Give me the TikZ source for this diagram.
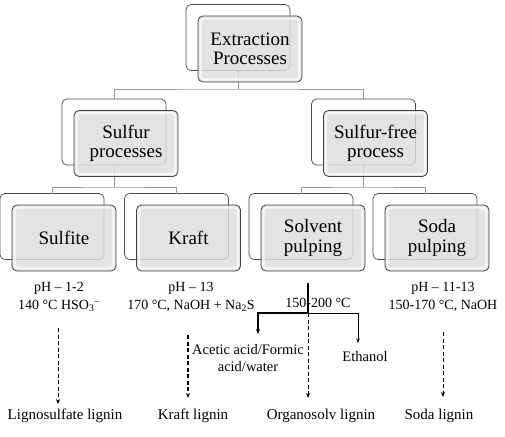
\documentclass[tikz,border=0pt]{standalone}
\usepackage{fontspec}
\setmainfont{Liberation Serif}
\usetikzlibrary{arrows.meta}
\begin{document}
\begin{tikzpicture}[x=1pt,y=-1pt,
  backbox/.style={draw=black!70, fill=white, rounded corners=5pt, minimum width=104pt, minimum height=66pt, inner sep=0pt, outer sep=0pt, line width=0.7pt},
  frontbox/.style={draw=black!75, fill=black!13, fill opacity=0.82, text opacity=1, rounded corners=5pt, minimum width=104pt, minimum height=66pt, inner sep=0pt, outer sep=0pt, line width=0.8pt, font=\fontsize{19}{19.5}\selectfont, align=center},
  glow/.style={draw=white, line width=2pt, opacity=0.75, rounded corners=3pt},
  conn/.style={draw=black!40, line width=0.8pt},
  param/.style={font=\fontsize{14}{18}\selectfont, align=center, inner sep=0pt},
  note/.style={font=\fontsize{14.5}{17}\selectfont, align=center, inner sep=0pt},
  result/.style={font=\fontsize{15}{17}\selectfont, inner sep=0pt},
  dasharrow/.style={line width=0.8pt, dash pattern=on 4pt off 2.5pt, -{Stealth[length=5pt,width=4pt]}},
  solidarrow/.style={line width=1.2pt, -{Stealth[length=5pt,width=4pt]}}
]
\useasboundingbox (0,0) rectangle (505,436);

% back boxes
\node[backbox] (extB) at (238,37.5) {};
\node[backbox] (sulB) at (114,132) {};
\node[backbox] (sfB) at (363.5,132) {};
\node[backbox] (sitB) at (52,226.5) {};
\node[backbox] (kraB) at (176.5,226.5) {};
\node[backbox] (solB) at (301,226.5) {};
\node[backbox] (sodB) at (425,226.5) {};

% connectors
\coordinate (j1) at (238,89);
\coordinate (j2) at (114,187);
\coordinate (j3) at (363.5,187);
\draw[conn] (extB.south) -- (j1);
\draw[conn] (sulB.north) |- (j1) -| (sfB.north);
\draw[conn] (sulB.south) -- (j2);
\draw[conn] (sitB.north) |- (j2) -| (kraB.north);
\draw[conn] (sfB.south) -- (j3);
\draw[conn] (solB.north) |- (j3) -| (sodB.north);

% front boxes
\foreach \n/\x/\y/\t in {ext/238/37.5/{Extraction\\Processes},
                         sul/114/132/{Sulfur\\processes},
                         sf/363.5/132/{Sulfur-free\\process},
                         sit/52/226.5/{Sulfite},
                         kra/176.5/226.5/{Kraft},
                         sol/301/226.5/{Solvent\\pulping},
                         sod/425/226.5/{Soda\\pulping}}{
  \node[frontbox] (\n F) at (\x+12,\y+11.5) {};
  \draw[glow] ([shift={(2.6,2.6)}]\n F.north west) rectangle ([shift={(-2.6,-2.6)}]\n F.south east);
  \node[font=\fontsize{19}{19.5}\selectfont, align=center, inner sep=0pt] at (\n F) {\t};
}

% process conditions
\node[param] (p1) at (59,297) {pH – 1-2\\140 °C HSO\textsubscript{3}\textsuperscript{–}};
\node[param] (p2) at (191,297) {pH – 13\\170 °C, NaOH + Na\textsubscript{2}S};
\node[param] (p3) at (318,303) {150-200 °C};
\node[param] (p4) at (443,297) {pH – 11-13\\150-170 °C, NaOH};

% solvent branches
\coordinate (s0) at (308,283);
\coordinate (s1) at (308,313);
\coordinate (a1) at (258,334);
\coordinate (e1) at (358,343);
\draw[line width=1.8pt] (s0) -- (s1);
\draw[solidarrow] (s1) -| (a1);
\draw[line width=1pt, -{Stealth[length=4.5pt,width=3.5pt]}] (s1) -| (e1);
\node[note] (acet) at (248,358) {Acetic acid/Formic\\acid/water};
\node[note] (eth) at (365,357) {Ethanol};

% results
\node[result] (r1) at (65,416) {Lignosulfate lignin};
\node[result] (r2) at (193,416) {Kraft lignin};
\node[result] (r3) at (321,416) {Organosolv lignin};
\node[result] (r4) at (439,416) {Soda lignin};

\coordinate (d1a) at (58,328);  \coordinate (d1b) at (58,404);
\coordinate (d2a) at (188,335); \coordinate (d2b) at (188,398);
\coordinate (d4a) at (443,332); \coordinate (d4b) at (443,397);
\coordinate (d3b) at (308,398);
\draw[dasharrow] (d1a) -- (d1b);
\draw[dasharrow, line width=1.3pt] (d2a) -- (d2b);
\draw[dasharrow] (s1) -- (d3b);
\draw[dasharrow] (d4a) -- (d4b);
\end{tikzpicture}
\end{document}
